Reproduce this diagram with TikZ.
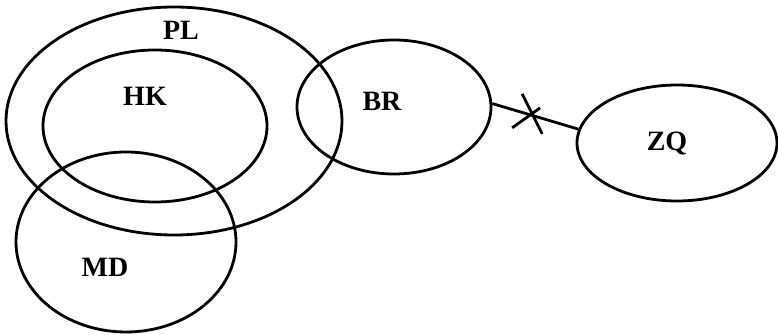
\documentclass[tikz,border=0pt]{standalone}
\usepackage{fontspec}
\setmainfont{Liberation Serif}
\usetikzlibrary{shapes.geometric,calc}
\tikzset{
  insieme/.style={draw,ellipse,line width=2.1pt,inner sep=0pt},
  nome/.style={anchor=base,font=\fontsize{21}{24}\selectfont\bfseries,inner sep=0pt}
}
\begin{document}
\begin{tikzpicture}[x=0.75pt,y=0.75pt]
         \useasboundingbox (0,0) rectangle (778,335);
         %insiemi
         \node[insieme,minimum width=252pt,minimum height=171pt] (pl) at (174,214) {};
         \node[insieme,minimum width=168pt,minimum height=114pt] (hk) at (155,209) {};
         \node[insieme,minimum width=165pt,minimum height=135pt] (md) at (126,93) {};
         \node[insieme,minimum width=145.5pt,minimum height=100.5pt] (br) at (394,228) {};
         \node[insieme,minimum width=150pt,minimum height=87pt] (zq) at (677,192) {};
         %collegamento
         \draw[line width=2.1pt] (br.2) -- (zq.172);
         \coordinate (croce) at ($(br.2)!0.44!(zq.172)$);
         \draw[line width=2.1pt] ($(croce)+(-18,-13)$) -- ($(croce)+(10,7)$);
         \draw[line width=2.1pt] ($(croce)+(-8,21)$) -- ($(croce)+(12,-19)$);
         %nomi
         \node[nome] (tpl) at (181,295) {PL};
         \node[nome] (thk) at (145,229) {HK};
         \node[nome] (tmd) at (105,58) {MD};
         \node[nome] (tbr) at (382,224) {BR};
         \node[nome] (tzq) at (667,184) {ZQ};
\end{tikzpicture}
\end{document}
